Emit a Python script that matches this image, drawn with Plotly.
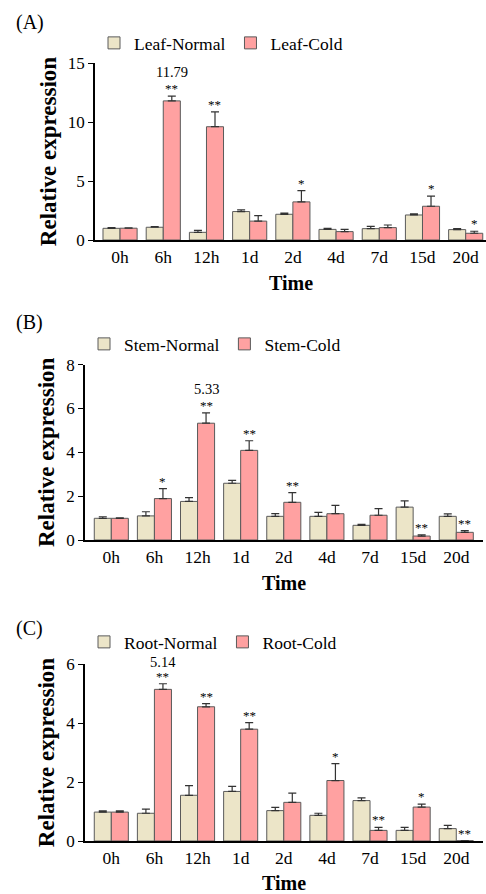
import plotly.graph_objects as go

categories = ["0h", "6h", "12h", "1d", "2d", "4d", "7d", "15d", "20d"]

# Panel A: Leaf
leaf_normal = [0.99, 1.08, 0.65, 2.41, 2.18, 0.90, 0.96, 2.12, 0.88]
leaf_normal_err = [0.06, 0.05, 0.17, 0.14, 0.10, 0.09, 0.20, 0.10, 0.08]
leaf_cold = [1.00, 11.79, 9.60, 1.60, 3.23, 0.71, 1.05, 2.86, 0.57]
leaf_cold_err = [0.03, 0.40, 1.25, 0.47, 0.96, 0.19, 0.22, 0.85, 0.17]
leaf_sig = ["", "**", "**", "", "*", "", "", "*", "*"]

# Panel B: Stem
stem_normal = [0.99, 1.10, 1.76, 2.59, 1.08, 1.08, 0.67, 1.50, 1.08]
stem_normal_err = [0.07, 0.19, 0.17, 0.13, 0.12, 0.18, 0.04, 0.29, 0.11]
stem_cold = [0.99, 1.89, 5.33, 4.09, 1.72, 1.20, 1.13, 0.18, 0.35]
stem_cold_err = [0.02, 0.45, 0.47, 0.44, 0.44, 0.38, 0.30, 0.06, 0.08]
stem_sig = ["", "*", "**", "**", "**", "", "", "**", "**"]

# Panel C: Root
root_normal = [0.98, 0.94, 1.55, 1.68, 1.03, 0.87, 1.37, 0.36, 0.42]
root_normal_err = [0.04, 0.14, 0.33, 0.17, 0.11, 0.07, 0.09, 0.10, 0.11]
root_cold = [0.98, 5.14, 4.55, 3.79, 1.31, 2.05, 0.36, 1.15, 0.01]
root_cold_err = [0.04, 0.19, 0.11, 0.22, 0.31, 0.57, 0.10, 0.10, 0.00]
root_sig = ["", "**", "**", "**", "", "*", "**", "*", "**"]

peak_labels = [("A", 1, "11.79"), ("B", 2, "5.33"), ("C", 1, "5.14")]

NORMAL = "#ECE5C8"
COLD = "#FFA1A1"
EDGE = "#5a5a5a"
FONT = "Liberation Serif"

W, H = 486, 894
def px_x(p): return p / W
def px_y(p): return (H - p) / H

panels = [
    dict(key="A", names=("Leaf-Normal", "Leaf-Cold"), n=leaf_normal, ne=leaf_normal_err,
         c=leaf_cold, ce=leaf_cold_err, sig=leaf_sig, x0=95, x1=486, y0=240, y1=63,
         yr=[0, 15], dt=5, xr=[-0.58, 8.47], label_y=22, leg_x=94, leg_y=43, title_y=283),
    dict(key="B", names=("Stem-Normal", "Stem-Cold"), n=stem_normal, ne=stem_normal_err,
         c=stem_cold, ce=stem_cold_err, sig=stem_sig, x0=85, x1=483, y0=540, y1=364.7,
         yr=[0, 8], dt=2, xr=[-0.61, 8.62], label_y=322, leg_x=84, leg_y=344, title_y=583),
    dict(key="C", names=("Root-Normal", "Root-Cold"), n=root_normal, ne=root_normal_err,
         c=root_cold, ce=root_cold_err, sig=root_sig, x0=85, x1=483, y0=841, y1=664,
         yr=[0, 6], dt=2, xr=[-0.61, 8.62], label_y=628, leg_x=84, leg_y=642, title_y=883),
]

fig = go.Figure()
layout = dict(
    width=W, height=H, margin=dict(l=0, r=0, t=0, b=0, autoexpand=False),
    paper_bgcolor="white", plot_bgcolor="white",
    barmode="group", bargap=0.21, bargroupgap=0,
    font=dict(family=FONT, size=17, color="black"),
)
annotations = []

for i, p in enumerate(panels):
    sfx = "" if i == 0 else str(i + 1)
    xa, ya = "x" + sfx, "y" + sfx
    leg = "legend" + sfx
    fig.add_trace(go.Bar(
        x=categories, y=p["n"], name=p["names"][0], xaxis=xa, yaxis=ya, legend=leg,
        marker=dict(color=NORMAL, line=dict(color=EDGE, width=1)),
        error_y=dict(type="data", array=p["ne"], arrayminus=[0] * 9, symmetric=False,
                     color="#333333", thickness=1.2, width=4),
    ))
    fig.add_trace(go.Bar(
        x=categories, y=p["c"], name=p["names"][1], xaxis=xa, yaxis=ya, legend=leg,
        marker=dict(color=COLD, line=dict(color=EDGE, width=1)),
        error_y=dict(type="data", array=p["ce"], arrayminus=[0] * 9, symmetric=False,
                     color="#333333", thickness=1.2, width=4),
    ))
    layout["xaxis" + sfx] = dict(
        domain=[px_x(p["x0"]), px_x(p["x1"])], anchor=ya, range=p["xr"],
        showline=True, linecolor="black", linewidth=1.5, ticks="",
        tickfont=dict(size=17.5), showgrid=False, automargin=False,
    )
    layout["yaxis" + sfx] = dict(
        domain=[px_y(p["y0"]), px_y(p["y1"])], anchor=xa, range=p["yr"], dtick=p["dt"],
        showline=True, linecolor="black", linewidth=1.5, ticks="outside", ticklen=5,
        tickwidth=1.2, tickcolor="black", tickfont=dict(size=17), showgrid=False,
        zeroline=False, automargin=False,
        title=dict(text="<b>Relative expression</b>", font=dict(size=23), standoff=5),
    )
    layout[leg] = dict(
        orientation="h", x=px_x(p["leg_x"]), xanchor="left",
        xref="container", yref="container",
        y=px_y(p["leg_y"]), yanchor="middle", font=dict(size=17.5),
        bgcolor="rgba(0,0,0,0)", itemwidth=30, tracegroupgap=0,
    )
    annotations.append(dict(
        text="(" + p["key"] + ")", xref="paper", yref="paper", x=px_x(14), y=px_y(p["label_y"]),
        xanchor="left", yanchor="middle", showarrow=False, font=dict(size=20),
    ))
    annotations.append(dict(
        text="<b>Time</b>", xref="paper", yref="paper",
        x=px_x((p["x0"] + p["x1"]) / 2), y=px_y(p["title_y"]),
        xanchor="center", yanchor="middle", showarrow=False, font=dict(size=20),
    ))
    for j, s in enumerate(p["sig"]):
        if s:
            annotations.append(dict(
                text=s, xref=xa, yref=ya, x=j + 0.197, y=p["c"][j] + p["ce"][j],
                xanchor="center", yanchor="bottom", yshift=-2, showarrow=False,
                font=dict(size=13),
            ))

for key, j, txt in peak_labels:
    k = "ABC".index(key)
    p = panels[k]
    sfx = "" if k == 0 else str(k + 1)
    annotations.append(dict(
        text=txt, xref="x" + sfx, yref="y" + sfx, x=j + 0.197, y=p["c"][j] + p["ce"][j],
        xanchor="center", yanchor="bottom", yshift=12 if k == 2 else 14, showarrow=False,
        font=dict(size=14.5),
    ))

layout["annotations"] = annotations
fig.update_layout(**layout)
fig.write_html(
    "out.html",
    config={"displayModeBar": False},
    post_script="document.body.style.margin='0';document.body.style.overflow='hidden';",
)
